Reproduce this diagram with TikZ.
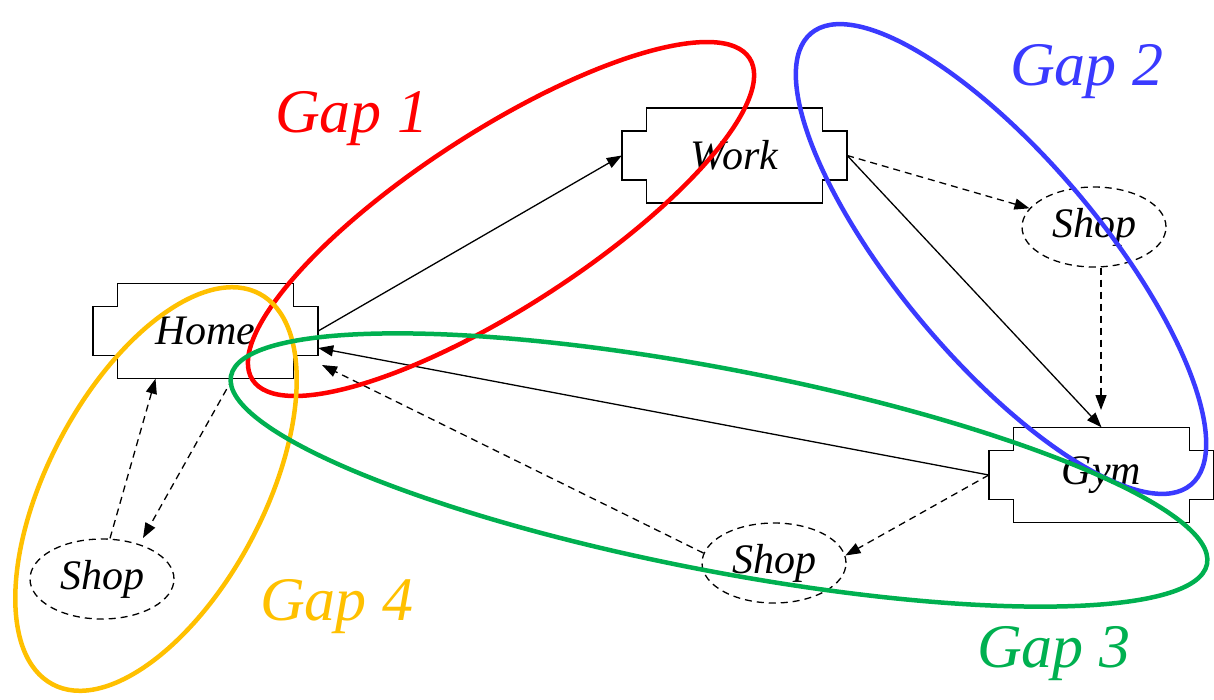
\documentclass[tikz,border=0pt]{standalone}
\usepackage{fontspec}
\setmainfont{Liberation Serif}
\usetikzlibrary{arrows.meta,shapes.geometric}
\definecolor{gapred}{RGB}{255,0,0}
\definecolor{gapblue}{RGB}{58,58,255}
\definecolor{gapgreen}{RGB}{0,176,80}
\definecolor{gapyellow}{RGB}{255,192,0}
\newcommand{\notchbox}[4]{%
  \draw[boxline, shift={(#2,#3)}] (-88pt,47.5pt) -- (88pt,47.5pt) -- (88pt,24.5pt) -- (112.5pt,24.5pt)
    -- (112.5pt,-24.5pt) -- (88pt,-24.5pt) -- (88pt,-47.5pt) -- (-88pt,-47.5pt) -- (-88pt,-24.5pt)
    -- (-112.5pt,-24.5pt) -- (-112.5pt,24.5pt) -- (-88pt,24.5pt) -- cycle;
  \node[place] (#1) at (#2,#3) {#4};}
\begin{document}
\begin{tikzpicture}[x=1pt,y=-1pt,
  boxline/.style={line width=1.3pt, fill=white},
  place/.style={rectangle, minimum width=225pt, minimum height=95pt, inner sep=0pt,
    font=\itshape\fontsize{42}{48}\selectfont},
  shopnode/.style={ellipse, draw, dash pattern=on 7pt off 5pt, line width=1.3pt, fill=white,
    minimum width=144pt, minimum height=80pt, inner sep=0pt,
    font=\itshape\fontsize{42}{48}\selectfont},
  link/.style={line width=1.3pt, -{Triangle[length=15pt,width=11pt]}},
  dlink/.style={link, dash pattern=on 7pt off 5pt},
  gap/.style={line width=4.5pt},
  gaplabel/.style={font=\itshape\fontsize{62}{68}\selectfont, anchor=base west, inner sep=0pt}
]
\useasboundingbox (0,0) rectangle (1214,699);

% nodes
\notchbox{home}{205.5}{331}{Home}
\notchbox{work}{734.5}{155.5}{Work}
\notchbox{gym}{1101.5}{475}{Gym}
\node[shopnode] (shop1) at (1094,227) {Shop};
\node[shopnode] (shop2) at (102,579) {Shop};
\node[shopnode] (shop3) at (774,563) {Shop};

% free ends
\coordinate (g1) at (1101,410);
\coordinate (h3) at (322,365);
\coordinate (s2) at (143,538);

% connectors
\draw[link] (home.east) -- (work.west);
\draw[link] (work.east) -- (gym.north);
\draw[dlink] (work.east) -- (shop1);
\draw[dlink] (shop1.south -| g1) -- (g1);
\draw[link] (gym.west) -- ([yshift=-17pt]home.east);
\draw[dlink] (gym.west) -- (shop3.6);
\draw[dlink] (shop3.172) -- (h3);
\draw[dlink] ([xshift=27pt]home.south) -- (s2);
\draw[dlink] ([xshift=8pt]shop2.north) -- ([xshift=-50pt]home.south);

% gap ellipses
\draw[gap, gapred, shift={(501,219)}, rotate=32.9] (0,0) ellipse [x radius=296pt, y radius=88pt];
\draw[gap, gapyellow, shift={(156,489)}, rotate=62.1] (0,0) ellipse [x radius=221pt, y radius=108pt];
\draw[gap, gapblue, shift={(1001,259)}, rotate=-49.9] (0,0) ellipse [x radius=295pt, y radius=101pt];
\draw[gap, gapgreen, shift={(719,470)}, rotate=-10.9] (0,0) ellipse [x radius=497pt, y radius=101pt];

% gap labels
\node[gaplabel, text=gapred] (gap1) at (275,132) {Gap 1};
\node[gaplabel, text=gapblue] (gap2) at (1010,85) {Gap 2};
\node[gaplabel, text=gapgreen] (gap3) at (977,667) {Gap 3};
\node[gaplabel, text=gapyellow] (gap4) at (260,620) {Gap 4};
\end{tikzpicture}
\end{document}
